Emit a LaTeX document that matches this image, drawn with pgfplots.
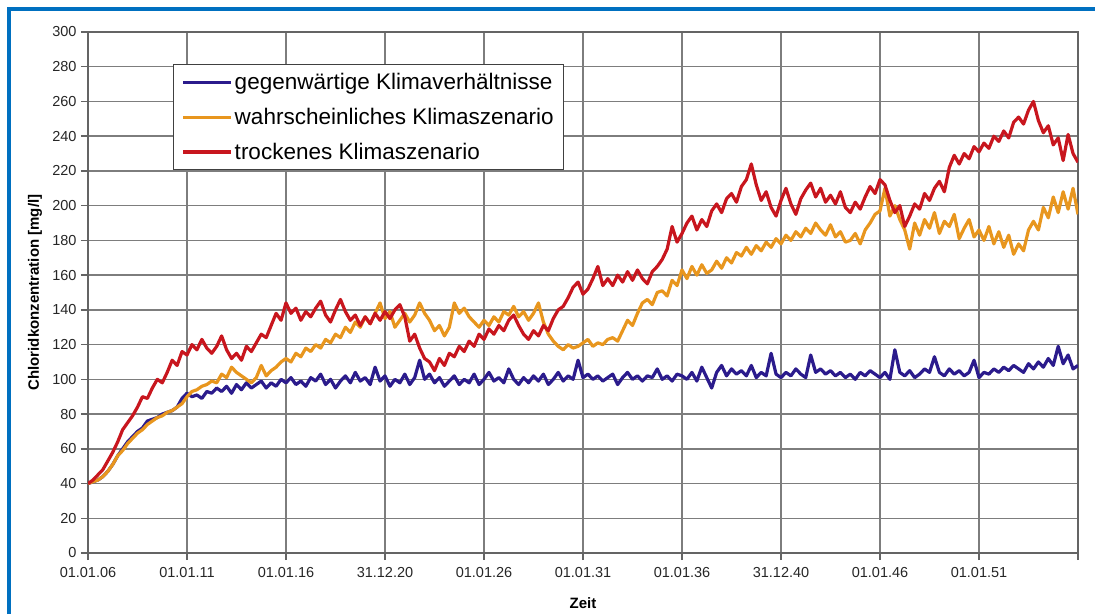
\documentclass[border=0pt]{standalone}
\usepackage{fontspec}
\setmainfont{Liberation Sans}
\usepackage{pgfplots}
\usepackage{pgfplotstable}
\pgfplotsset{compat=1.18}

\definecolor{cblue}{RGB}{43,27,140}
\definecolor{corange}{RGB}{232,150,30}
\definecolor{cred}{RGB}{200,22,30}
\definecolor{cframe}{RGB}{0,112,192}
\definecolor{cgrid}{RGB}{125,125,125}

% t = Jahre seit 01.01.06
\pgfplotstableread{
t b o r
0 40 40 40
0.25 41 41 42
0.5 42 42 45
0.75 44 44 48
1 47 47 53
1.25 51 51 58
1.5 56 56 64
1.75 60 59 71
2 64 63 75
2.25 67 66 79
2.5 70 69 84
2.75 72 71 90
3 76 74 89
3.25 77 76 95
3.5 78 78 100
3.75 80 79 98
4 81 81 104
4.25 82 82 111
4.5 84 84 108
4.75 89 86 116
5 92 90 114
5.25 90 93 120
5.5 91 94 117
5.75 89 96 123
6 93 97 118
6.25 92 99 115
6.5 95 98 119
6.75 93 103 125
7 96 101 117
7.25 92 107 112
7.5 97 104 115
7.75 94 102 111
8 98 100 119
8.25 95 98 116
8.5 97 101 121
8.75 99 108 126
9 95 102 124
9.25 98 105 131
9.5 96 107 138
9.75 100 110 134
10 98 112 144
10.25 101 110 138
10.5 97 115 141
10.75 99 113 134
11 96 118 139
11.25 101 116 136
11.5 99 120 141
11.75 103 118 145
12 97 123 137
12.25 100 121 133
12.5 95 126 140
12.75 99 124 146
13 102 130 139
13.25 98 127 134
13.5 104 133 137
13.75 99 130 131
14 101 136 136
14.25 97 132 132
14.5 107 138 138
14.75 99 144 134
15 102 135 139
15.25 96 139 135
15.5 100 130 140
15.75 98 134 143
16 103 138 136
16.25 97 133 122
16.5 101 137 126
16.75 111 144 118
17 100 138 112
17.25 103 134 110
17.5 98 128 105
17.75 101 131 112
18 96 125 108
18.25 99 130 115
18.5 102 144 113
18.75 97 138 119
19 100 141 116
19.25 98 136 122
19.5 103 133 119
19.75 97 130 126
20 100 134 123
20.25 104 131 129
20.5 99 136 126
20.75 101 133 131
21 98 139 128
21.25 106 137 134
21.5 100 142 137
21.75 97 136 131
22 101 139 126
22.25 98 134 123
22.5 102 138 128
22.75 99 144 125
23 103 133 131
23.25 97 126 128
23.5 100 122 135
23.75 104 119 140
24 99 117 142
24.25 102 120 147
24.5 100 118 153
24.75 111 119 156
25 101 121 149
25.25 103 123 152
25.5 100 119 158
25.75 102 121 165
26 99 120 154
26.25 101 123 158
26.5 103 124 154
26.75 97 122 160
27 101 128 156
27.25 104 134 162
27.5 100 131 157
27.75 102 138 163
28 99 144 158
28.25 102 146 155
28.5 101 143 162
28.75 106 150 165
29 100 151 169
29.25 102 148 175
29.5 99 157 188
29.75 103 154 179
30 102 163 184
30.25 100 158 190
30.5 104 165 194
30.75 99 160 186
31 107 166 192
31.25 101 161 188
31.5 95 163 197
31.75 104 168 201
32 108 164 196
32.25 102 170 204
32.5 106 167 207
32.75 103 173 202
33 105 171 211
33.25 102 176 215
33.5 108 172 224
33.75 101 177 212
34 104 174 203
34.25 102 179 208
34.5 115 176 199
34.75 103 181 194
35 101 178 203
35.25 104 183 210
35.5 102 180 201
35.75 106 185 195
36 103 182 204
36.25 101 187 209
36.5 114 184 213
36.75 104 190 205
37 106 186 210
37.25 103 183 202
37.5 105 189 206
37.75 102 182 201
38 104 185 208
38.25 101 179 199
38.5 103 180 196
38.75 100 184 202
39 104 178 198
39.25 102 186 205
39.5 105 190 211
39.75 103 195 207
40 101 197 215
40.25 104 210 212
40.5 100 194 203
40.75 117 200 196
41 104 192 200
41.25 102 186 188
41.5 105 175 194
41.75 101 190 201
42 103 183 198
42.25 106 192 207
42.5 104 187 203
42.75 113 196 210
43 104 184 214
43.25 102 191 208
43.5 106 188 222
43.75 103 195 229
44 105 181 224
44.25 102 187 230
44.5 104 192 227
44.75 111 182 234
45 101 186 231
45.25 104 180 236
45.5 103 188 233
45.75 106 178 240
46 104 185 237
46.25 107 176 243
46.5 105 183 239
46.75 108 172 248
47 106 178 251
47.25 104 174 247
47.5 109 186 255
47.75 106 191 260
48 110 186 249
48.25 107 199 242
48.5 112 193 246
48.75 108 205 235
49 119 196 239
49.25 109 208 226
49.5 114 198 241
49.75 106 210 230
50 108 195 225
}\data

\begin{document}
\begin{tikzpicture}[x=1pt,y=1pt]
\path[use as bounding box] (0,0) rectangle (1095,614);
\begin{axis}[
  at={(88pt,61pt)}, anchor=south west,
  scale only axis, width=990pt, height=521pt,
  xmin=0, xmax=50, ymin=0, ymax=300,
  xtick={0,5,...,50},
  xticklabels={01.01.06,01.01.11,01.01.16,31.12.20,01.01.26,01.01.31,01.01.36,31.12.40,01.01.46,01.01.51,{}},
  ytick={0,20,...,300},
  /pgf/number format/assume math mode=true,
  grid=major,
  major grid style={cgrid, line width=1.4pt},
  axis line style={cgrid!80!black, line width=1.6pt},
  tick style={cgrid!80!black, line width=1.4pt},
  tick align=outside, major tick length=7pt,
  xtick pos=bottom, ytick pos=left,
  ticklabel style={font=\fontsize{14.5}{17}\selectfont, text=black!85},
  xticklabel style={yshift=-4pt},
  yticklabel style={xshift=-1pt},
  xlabel={Zeit}, ylabel={Chloridkonzentration [mg/l]},
  xlabel style={at={(axis description cs:0.5,-0.096)}, anchor=center, font=\fontsize{15}{18}\selectfont\bfseries},
  ylabel style={at={(axis description cs:-0.0535,0.5)}, anchor=center, font=\fontsize{15}{18}\selectfont\bfseries},
  legend cell align=left,
  legend style={at={(axis description cs:0.0859,0.9386)}, anchor=north west,
    draw=black!75, line width=1pt, fill=white,
    font=\fontsize{22.5}{26}\selectfont, row sep=13pt,
    inner xsep=8pt, inner ysep=7pt},
  legend image code/.code={\draw[#1, line cap=butt] (0pt,0pt) -- (48pt,0pt);},
  every axis plot/.append style={line width=3.2pt, line join=round},
]
\addplot[cblue] table[x=t, y=b] {\data};
\addplot[corange] table[x=t, y=o] {\data};
\addplot[cred] table[x=t, y=r] {\data};
\legend{gegenwärtige Klimaverhältnisse, wahrscheinliches Klimaszenario, trockenes Klimaszenario}
\end{axis}
\draw[cframe, line width=3.5pt] (9,0) -- (9,605) -- (1095,605);
\end{tikzpicture}
\end{document}
